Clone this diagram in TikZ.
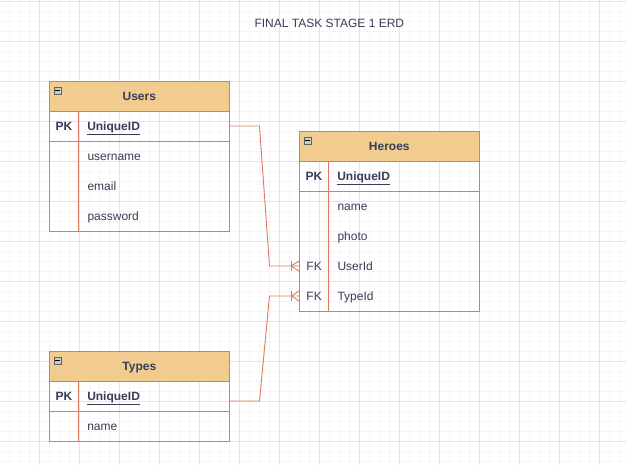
\documentclass[tikz,border=0pt]{standalone}
\usepackage{fontspec}
\setmainfont{Liberation Sans}
\definecolor{erfill}{HTML}{F2CC8F}
\definecolor{erline}{HTML}{E07A5F}
\definecolor{ertext}{HTML}{393C56}
\definecolor{gridminor}{HTML}{F5F5F5}
\definecolor{gridmajor}{HTML}{E4E4E4}
\begin{document}
\begin{tikzpicture}[x=1pt,y=-1pt,
  every node/.style={font=\fontsize{12}{14}\selectfont, text=ertext},
  hdr/.style={draw=erline, fill=erfill, line width=0.9pt, minimum width=180pt, minimum height=30pt, inner sep=0pt},
  hdrtxt/.style={inner sep=0pt, anchor=base, yshift=-4.3pt, font=\fontsize{12}{14}\selectfont\bfseries},
  pkrow/.style={draw=erline, line width=0.9pt, minimum width=180pt, minimum height=30pt, inner sep=0pt},
  bodybox/.style={draw=erline, line width=0.9pt, minimum width=180pt, inner sep=0pt},
  slot/.style={minimum width=180pt, minimum height=30pt, inner sep=0pt},
  keytxt/.style={inner sep=0pt, anchor=base, yshift=-4.3pt},
  fld/.style={inner sep=0pt, anchor=base west, yshift=-4.3pt},
  divider/.style={draw=erline, line width=0.9pt},
  conn/.style={draw=erline, line width=0.9pt},
  tog/.style={draw=gray!75!black, fill=gray!40, line width=0.5pt, minimum size=7pt, inner sep=0pt}
]
\useasboundingbox (0,0) rectangle (626,465);
\fill[white] (0,0) rectangle (626,465);
% grid
\foreach \k in {1,...,62} {
  \draw[gridminor, line width=0.6pt] (\k*10-0.7,0) -- (\k*10-0.7,465);
}
\foreach \k in {0,...,46} {
  \draw[gridminor, line width=0.6pt] (0,\k*10+1) -- (626,\k*10+1);
}
\foreach \k in {1,...,15} {
  \draw[gridmajor, line width=0.7pt] (\k*40-0.7,0) -- (\k*40-0.7,465);
}
\foreach \k in {0,...,11} {
  \draw[gridmajor, line width=0.7pt] (0,\k*40+1) -- (626,\k*40+1);
}

% title
\node[keytxt] (title) at (329.3,23) {FINAL TASK STAGE 1 ERD};

% ---------- Users ----------
\node[hdr] (users) at (139.3,96) {};
\node[hdrtxt] (users-t) at (users.center) {Users};
\node[tog] (users-tog) at (57.5,90.5) {};
\node[pkrow] (users-pk) at (139.3,126) {};
\node[bodybox, minimum height=90pt] (users-body) at (139.3,186) {};
\node[slot] (users-r1) at (139.3,156) {};
\node[slot] (users-r2) at (139.3,186) {};
\node[slot] (users-r3) at (139.3,216) {};
\draw[divider] ([xshift=30pt]users-pk.north west) -- ([xshift=30pt]users-body.south west);
\node[keytxt, font=\fontsize{12}{14}\selectfont\bfseries] (users-pkt) at ([xshift=15pt]users-pk.west) {PK};
\node[fld, font=\fontsize{12}{14}\selectfont\bfseries] (users-pkf) at ([xshift=38.2pt]users-pk.west) {\underline{UniqueID}};
\node[fld] (users-f1) at ([xshift=38.2pt]users-r1.west) {username};
\node[fld] (users-f2) at ([xshift=38.2pt]users-r2.west) {email};
\node[fld] (users-f3) at ([xshift=38.2pt]users-r3.west) {password};

% ---------- Heroes ----------
\node[hdr] (heroes) at (389.3,146) {};
\node[hdrtxt] (heroes-t) at (heroes.center) {Heroes};
\node[tog] (heroes-tog) at (307.5,140.5) {};
\node[pkrow] (heroes-pk) at (389.3,176) {};
\node[bodybox, minimum height=120pt] (heroes-body) at (389.3,251) {};
\node[slot] (heroes-r1) at (389.3,206) {};
\node[slot] (heroes-r2) at (389.3,236) {};
\node[slot] (heroes-r3) at (389.3,266) {};
\node[slot] (heroes-r4) at (389.3,296) {};
\draw[divider] ([xshift=30pt]heroes-pk.north west) -- ([xshift=30pt]heroes-body.south west);
\node[keytxt, font=\fontsize{12}{14}\selectfont\bfseries] (heroes-pkt) at ([xshift=15pt]heroes-pk.west) {PK};
\node[fld, font=\fontsize{12}{14}\selectfont\bfseries] (heroes-pkf) at ([xshift=38.2pt]heroes-pk.west) {\underline{UniqueID}};
\node[fld] (heroes-f1) at ([xshift=38.2pt]heroes-r1.west) {name};
\node[fld] (heroes-f2) at ([xshift=38.2pt]heroes-r2.west) {photo};
\node[keytxt] (heroes-fk3) at ([xshift=15pt]heroes-r3.west) {FK};
\node[fld] (heroes-f3) at ([xshift=38.2pt]heroes-r3.west) {UserId};
\node[keytxt] (heroes-fk4) at ([xshift=15pt]heroes-r4.west) {FK};
\node[fld] (heroes-f4) at ([xshift=38.2pt]heroes-r4.west) {TypeId};

% ---------- Types ----------
\node[hdr] (types) at (139.3,366) {};
\node[hdrtxt] (types-t) at (types.center) {Types};
\node[tog] (types-tog) at (57.5,360.5) {};
\node[pkrow] (types-pk) at (139.3,396) {};
\node[bodybox, minimum height=30pt] (types-body) at (139.3,426) {};
\draw[divider] ([xshift=30pt]types-pk.north west) -- ([xshift=30pt]types-body.south west);
\node[keytxt, font=\fontsize{12}{14}\selectfont\bfseries] (types-pkt) at ([xshift=15pt]types-pk.west) {PK};
\node[fld, font=\fontsize{12}{14}\selectfont\bfseries] (types-pkf) at ([xshift=38.2pt]types-pk.west) {\underline{UniqueID}};
\node[fld] (types-f1) at ([xshift=38.2pt]types-body.west) {name};

% toggle minus signs
\foreach \t in {users-tog,heroes-tog,types-tog} {
  \draw[black, line width=0.9pt] ([xshift=-2.2pt]\t.center) -- ([xshift=2.2pt]\t.center);
}

% ---------- connectors ----------
\coordinate (b1) at (259.5,126);
\coordinate (b2) at (269.5,266);
\coordinate (b3) at (259.5,401);
\coordinate (b4) at (269.5,296);
\draw[conn] (users-pk.east) -- (b1) -- (b2) -- (heroes-r3.west);
\draw[conn] ([yshift=-5pt]types-pk.east) -- (b3) -- (b4) -- (heroes-r4.west);
\foreach \r in {heroes-r3,heroes-r4} {
  \draw[conn] ([xshift=-8pt,yshift=5pt]\r.west) -- ([xshift=-8pt,yshift=-5pt]\r.west);
  \draw[conn] ([xshift=-8pt]\r.west) -- ([yshift=5pt]\r.west);
  \draw[conn] ([xshift=-8pt]\r.west) -- ([yshift=-5pt]\r.west);
}
\end{tikzpicture}
\end{document}
